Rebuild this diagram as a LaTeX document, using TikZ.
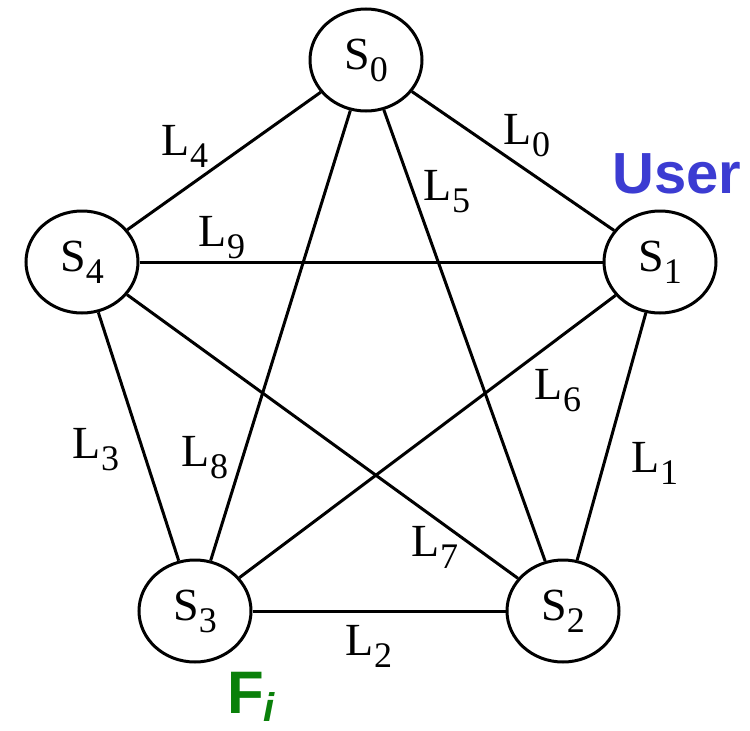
\documentclass[tikz,border=0pt]{standalone}
\usepackage{fontspec}
\setmainfont{Liberation Serif}
\newfontfamily\arialfont{Liberation Sans}
\usetikzlibrary{shapes.geometric}
\definecolor{userblue}{RGB}{60,60,210}
\definecolor{figreen}{RGB}{10,128,10}
\newcommand{\subl}[2]{#1\raisebox{-12pt}{\fontsize{36}{36}\selectfont #2}}
\tikzset{
  station/.style={draw, ellipse, line width=3pt, minimum width=112pt, minimum height=102pt, inner sep=0pt, font=\fontsize{46}{46}\selectfont},
  link/.style={line width=3pt},
  linklabel/.style={inner sep=0pt, font=\fontsize{46}{46}\selectfont},
}
\begin{document}
\begin{tikzpicture}[x=1pt,y=-1pt]
\useasboundingbox (0,0) rectangle (750,731);
\node[station] (s0) at (366,60) {\subl{S}{0}};
\node[station] (s1) at (660,262) {\subl{S}{1}};
\node[station] (s2) at (563,611) {\subl{S}{2}};
\node[station] (s3) at (195,611) {\subl{S}{3}};
\node[station] (s4) at (82,262) {\subl{S}{4}};
\draw[link] (s0) -- (s1);
\draw[link] (s1) -- (s2);
\draw[link] (s2) -- (s3);
\draw[link] (s3) -- (s4);
\draw[link] (s4) -- (s0);
\draw[link] (s0) -- (s2);
\draw[link] (s1) -- (s3);
\draw[link] (s2) -- (s4);
\draw[link] (s3) -- (s0);
\draw[link] (s4) -- (s1);
\node[linklabel] (l0) at (527,136) {\subl{L}{0}};
\node[linklabel] (l1) at (655,463) {\subl{L}{1}};
\node[linklabel] (l2) at (369,646) {\subl{L}{2}};
\node[linklabel] (l3) at (96,450) {\subl{L}{3}};
\node[linklabel] (l4) at (185,146) {\subl{L}{4}};
\node[linklabel] (l5) at (447,192) {\subl{L}{5}};
\node[linklabel] (l6) at (558,391) {\subl{L}{6}};
\node[linklabel] (l7) at (435,547) {\subl{L}{7}};
\node[linklabel] (l8) at (205,458) {\subl{L}{8}};
\node[linklabel] (l9) at (222,238) {\subl{L}{9}};
\node[anchor=base west, inner sep=0pt, text=userblue, font=\arialfont\bfseries\fontsize{58}{58}\selectfont] (user) at (612,193) {User};
\node[anchor=base west, inner sep=0pt, text=figreen, font=\arialfont\bfseries\fontsize{60}{60}\selectfont] (fi) at (227,713) {F\raisebox{-8pt}{\fontsize{40}{40}\selectfont\itshape i}};
\end{tikzpicture}
\end{document}
